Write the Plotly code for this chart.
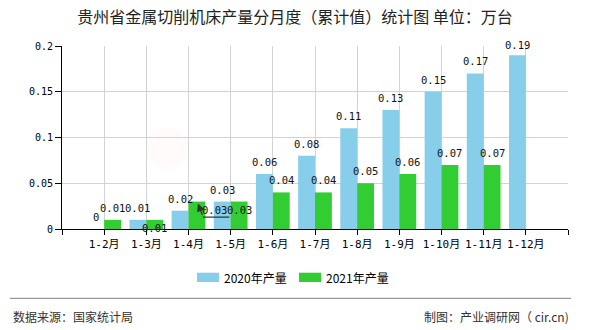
import plotly.graph_objects as go

# ---- data ----
categories = ["1-2月", "1-3月", "1-4月", "1-5月", "1-6月", "1-7月", "1-8月", "1-9月", "1-10月", "1-11月", "1-12月"]
values_2020 = [0, 0.01, 0.02, 0.03, 0.06, 0.08, 0.11, 0.13, 0.15, 0.17, 0.19]
values_2021 = [0.01, 0.01, 0.03, 0.03, 0.04, 0.04, 0.05, 0.06, 0.07, 0.07, None]
series_names = ["2020年产量", "2021年产量"]
y_ticks = [0, 0.05, 0.1, 0.15, 0.2]
y_tick_labels = ["0", "0.05", "0.1", "0.15", "0.2"]

title_text = "贵州省金属切削机床产量分月度（累计值）统计图 单位：万台"
source_text = "数据来源：国家统计局"
credit_text = "制图：产业调研网（ cir.cn)"

# ---- styles / layout ----
COLORS = ["#87CEEB", "#32CD32"]
W, H = 590, 330
ML, MR, MT, MB = 62, 22, 46, 101
PW, PH = W - ML - MR, H - MT - MB
BAR_HALF = 0.2  # centre offset of each bar inside a group (bargap 0.2, two bars)

NUM_FONT = "DejaVu Sans Mono, Liberation Mono, monospace"
CJK_FONT = "Noto Sans CJK SC, Noto Sans, sans-serif"

# label offsets (xshift, yshift of label centre relative to bar top)
DEFAULT_SHIFT = (0, 12)
SHIFTS = [{10: (0, 10)}, {1: (0, -8), 2: (18, -8), 3: (0, -8)}]


def pxx(x):
    return (x - ML) / PW


def pxy(y):
    return (H - MB - y) / PH


x_pos = list(range(len(categories)))

fig = go.Figure()
for k, (vals, name, color) in enumerate(zip([values_2020, values_2021], series_names, COLORS)):
    fig.add_trace(go.Bar(
        x=x_pos, y=vals, name=name, marker_color=color, marker_line_width=0,
        showlegend=False,
    ))

annotations = []
for k, vals in enumerate([values_2020, values_2021]):
    off = -BAR_HALF if k == 0 else BAR_HALF
    for i, v in enumerate(vals):
        if v is None:
            continue
        xs, ys = SHIFTS[k].get(i, DEFAULT_SHIFT)
        annotations.append(dict(
            x=i + off, y=v, xref="x", yref="y", text=f"{v:g}", showarrow=False,
            xanchor="center", yanchor="middle", xshift=xs, yshift=ys,
            font=dict(family=NUM_FONT, size=10.5, color="#111"),
        ))

# leader line for the displaced 1-4月 2021 label
lead_i = 2
lead_v = values_2021[lead_i]
annotations.append(dict(
    x=lead_i + BAR_HALF, y=lead_v, xref="x", yref="y", text="", showarrow=True,
    xshift=1, yshift=-2, ax=5, ay=13, arrowhead=2, arrowsize=1.3, arrowwidth=1.2,
    arrowcolor="#333",
))
annotations.append(dict(
    x=lead_i + BAR_HALF, y=lead_v, xref="x", yref="y", text="", showarrow=True,
    xshift=6, yshift=-15.5, ax=28, ay=0, arrowhead=0, arrowwidth=1.2,
    arrowcolor="#333",
))

# legend (manual)
legend_items = [(197, 223), (299, 325)]
shapes = []
for (sx, tx), name, color in zip(legend_items, series_names, COLORS):
    shapes.append(dict(type="rect", xref="paper", yref="paper",
                       x0=pxx(sx), x1=pxx(sx + 22), y0=pxy(282), y1=pxy(272.7),
                       fillcolor=color, line_width=0))
    annotations.append(dict(
        x=pxx(tx), y=pxy(277.3), xref="paper", yref="paper", text=name, showarrow=False,
        xanchor="left", yanchor="middle", borderpad=0,
        font=dict(family=CJK_FONT, size=12, color="#000"),
    ))

# footer
shapes.append(dict(type="line", xref="paper", yref="paper",
                   x0=pxx(10), x1=pxx(571), y0=pxy(298.3), y1=pxy(298.3),
                   line=dict(color="#808080", width=1)))
# faint watermark logo
shapes.append(dict(type="circle", xref="paper", yref="paper",
                   x0=pxx(148), x1=pxx(187), y0=pxy(168), y1=pxy(128),
                   fillcolor="rgba(235,130,110,0.035)", line_width=0, layer="below"))
annotations.append(dict(
    x=pxx(12), y=pxy(316), xref="paper", yref="paper", text=source_text, showarrow=False,
    xanchor="left", yanchor="middle", borderpad=0,
    font=dict(family=CJK_FONT, size=12, color="#333"),
))
annotations.append(dict(
    x=pxx(570), y=pxy(316), xref="paper", yref="paper", text=credit_text, showarrow=False,
    xanchor="right", yanchor="middle", borderpad=0,
    font=dict(family=CJK_FONT, size=12, color="#333"),
))

fig.update_layout(
    width=W, height=H,
    margin=dict(l=ML, r=MR, t=MT, b=MB, pad=0),
    paper_bgcolor="white", plot_bgcolor="white",
    barmode="group", bargap=0.2, bargroupgap=0,
    title=dict(text=title_text, x=0.5, xref="container", xanchor="center",
               y=1 - 17.5 / H, yref="container", yanchor="middle",
               font=dict(family=CJK_FONT, size=16, color="#222")),
    annotations=annotations,
    shapes=shapes,
    xaxis=dict(
        range=[-1, len(categories)],
        tickvals=list(range(-1, len(categories) + 1)),
        ticktext=[""] + categories + [""],
        showgrid=True, gridcolor="#d3d3d3", gridwidth=1,
        showline=True, linecolor="#000", linewidth=1,
        ticks="outside", ticklen=5, tickcolor="#000", tickwidth=1,
        tickfont=dict(family=NUM_FONT + ", Noto Sans CJK SC", size=11, color="#000"),
        zeroline=False, fixedrange=True,
    ),
    yaxis=dict(
        range=[0, 0.2],
        tickvals=y_ticks, ticktext=y_tick_labels,
        showgrid=True, gridcolor="#d3d3d3", gridwidth=1,
        showline=True, linecolor="#000", linewidth=1,
        ticks="outside", ticklen=6, tickcolor="#000", tickwidth=1,
        tickfont=dict(family=NUM_FONT, size=10, color="#000"),
        zeroline=False, fixedrange=True,
    ),
    showlegend=False,
)

fig.write_html("out.html", config={"displayModeBar": False})
